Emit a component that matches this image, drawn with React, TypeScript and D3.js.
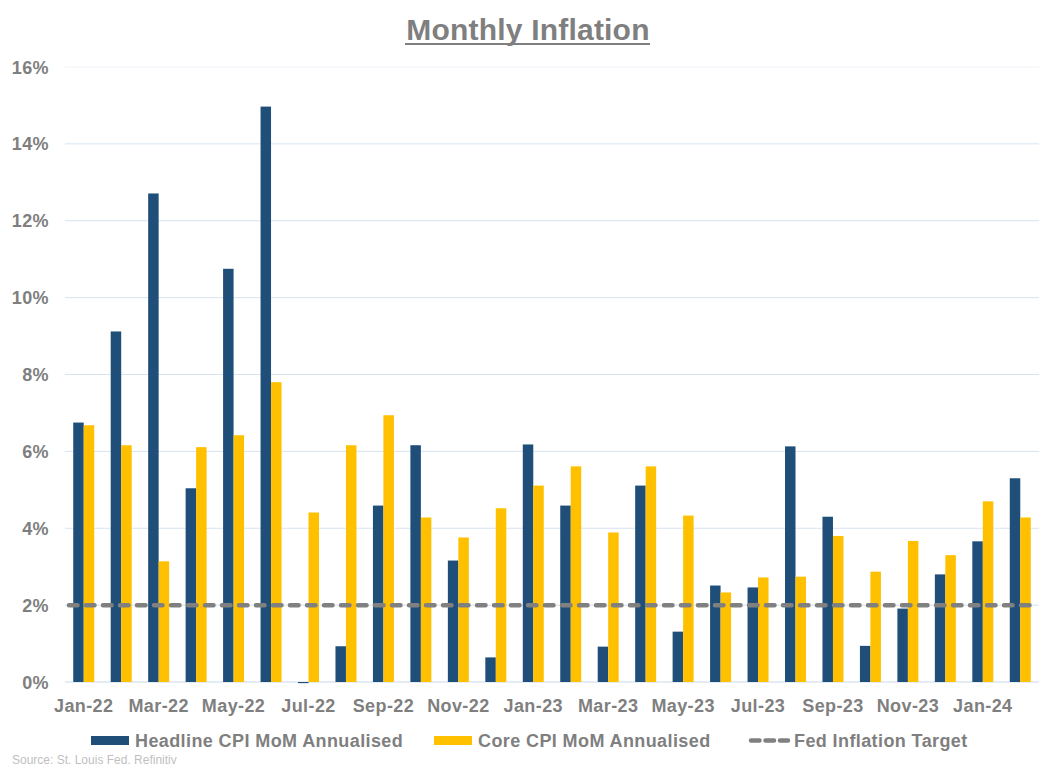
import React from "react";
import * as d3 from "d3";

const months = [
  "Jan-22", "Feb-22", "Mar-22", "Apr-22", "May-22", "Jun-22", "Jul-22", "Aug-22", "Sep-22", "Oct-22", "Nov-22", "Dec-22",
  "Jan-23", "Feb-23", "Mar-23", "Apr-23", "May-23", "Jun-23", "Jul-23", "Aug-23", "Sep-23", "Oct-23", "Nov-23", "Dec-23",
  "Jan-24", "Feb-24",
];
const headline = [
  6.75, 9.12, 12.71, 5.04, 10.75, 14.97, -0.03, 0.93, 4.59, 6.16, 3.16, 0.64,
  6.18, 4.59, 0.92, 5.11, 1.31, 2.51, 2.46, 6.13, 4.30, 0.94, 1.91, 2.80,
  3.66, 5.30,
];
const core = [
  6.68, 6.16, 3.14, 6.11, 6.42, 7.80, 4.41, 6.16, 6.94, 4.28, 3.76, 4.52,
  5.11, 5.61, 3.89, 5.61, 4.33, 2.33, 2.72, 2.74, 3.80, 2.87, 3.67, 3.30,
  4.70, 4.28,
];
const fedTarget = 2;
const yTicks = [0, 2, 4, 6, 8, 10, 12, 14, 16];
const seriesNames = ["Headline CPI MoM Annualised", "Core CPI MoM Annualised", "Fed Inflation Target"];
const title = "Monthly Inflation";
const source = "Source: St. Louis Fed. Refinitiv";

const W = 1057;
const H = 769;
const left = 65;
const right = 1039;
const top = 67;
const bottom = 682;
const NAVY = "#1f4e79";
const GOLD = "#ffc000";
const GREY = "#7f7f7f";
const FONT = "'Liberation Sans', Arial, sans-serif";
const LS = 0.4;

export default function App() {
  const x0 = d3.scaleBand<string>().domain(months).range([left, right]).paddingInner(0.44).paddingOuter(0.22);
  const x1 = d3.scaleBand<string>().domain(["h", "c"]).range([0, x0.bandwidth()]);
  const y = d3.scaleLinear().domain([0, 16]).range([bottom, top]);

  return (
    <svg width={W} height={H} style={{ position: "absolute", left: 0, top: 0, background: "#fff" }} fontFamily={FONT}>
      {/* title */}
      <text x={528} y={40} textAnchor="middle" fontSize={30} fontWeight="bold" fill={GREY} letterSpacing={0.2}>
        {title}
      </text>
      <line x1={405} x2={650} y1={44} y2={44} stroke={GREY} strokeWidth={2} />

      {/* gridlines */}
      {yTicks.map((t) => (
        <line key={t} x1={left} x2={right} y1={y(t)} y2={y(t)}
          stroke={t === 0 ? "#c9d9ec" : t === 16 ? "#eef3f9" : "#d5e3f1"} strokeWidth={1} />
      ))}
      {/* y labels */}
      {yTicks.map((t) => (
        <text key={"l" + t} x={49} y={y(t) + 6.5} textAnchor="end" fontSize={18} fontWeight="bold" fill={GREY}
          letterSpacing={LS}>
          {t + "%"}
        </text>
      ))}

      {/* bars */}
      {months.map((m, i) => {
        const gx = x0(m) as number;
        const hv = headline[i];
        const cv = core[i];
        return (
          <g key={m}>
            <rect x={gx + (x1("h") as number)} width={x1.bandwidth()}
              y={Math.min(y(hv), y(0))} height={Math.max(Math.abs(y(hv) - y(0)), 1)} fill={NAVY} />
            <rect x={gx + (x1("c") as number)} width={x1.bandwidth()}
              y={Math.min(y(cv), y(0))} height={Math.abs(y(cv) - y(0))} fill={GOLD} />
          </g>
        );
      })}

      {/* fed target */}
      <line x1={69} x2={right - 2} y1={y(fedTarget)} y2={y(fedTarget)} stroke="#808080" strokeWidth={4.5}
        strokeDasharray="8.5 8.5" strokeLinecap="round" />

      {/* x labels */}
      {months.map((m, i) =>
        i % 2 === 0 ? (
          <text key={"x" + m} x={(x0(m) as number) + x0.bandwidth() / 2} y={712} textAnchor="middle"
            fontSize={18} fontWeight="bold" fill={GREY} letterSpacing={LS}>{m}</text>
        ) : null
      )}

      {/* legend */}
      <rect x={91} y={736} width={38} height={9} fill={NAVY} />
      <text x={135} y={746.5} fontSize={18} fontWeight="bold" fill={GREY} letterSpacing={LS}>{seriesNames[0]}</text>
      <rect x={434} y={736} width={38} height={9} fill={GOLD} />
      <text x={478} y={746.5} fontSize={18} fontWeight="bold" fill={GREY} letterSpacing={LS}>{seriesNames[1]}</text>
      <line x1={751} x2={788} y1={740.5} y2={740.5} stroke="#808080" strokeWidth={4.5}
        strokeDasharray="8.5 6" strokeLinecap="round" />
      <text x={794} y={746.5} fontSize={18} fontWeight="bold" fill={GREY} letterSpacing={LS}>{seriesNames[2]}</text>

      {/* source */}
      <text x={12} y={764} fontSize={12} fill="#bfbfbf">{source}</text>
    </svg>
  );
}
